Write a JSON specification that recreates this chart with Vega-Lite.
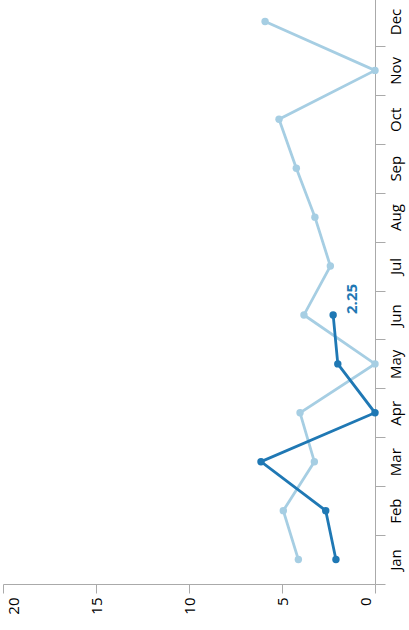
{
  "$schema": "https://vega.github.io/schema/vega-lite/v6.json",
  "autosize": {"type": "none"},
  "width": 372,
  "height": 587,
  "padding": {"left": 3, "top": -3, "right": 34, "bottom": 46},
  "config": {
    "view": {"stroke": null},
    "font": "Open Sans",
    "axis": {"domainColor": "#aaa", "tickColor": "#aaa", "labelColor": "#000", "labelFontSize": 15, "grid": false, "title": null}
  },
  "data": {"values": [
    {"month": "Jan", "series": "B", "value": 4.12},
    {"month": "Feb", "series": "B", "value": 4.93},
    {"month": "Mar", "series": "B", "value": 3.26},
    {"month": "Apr", "series": "B", "value": 4.03},
    {"month": "May", "series": "B", "value": 0},
    {"month": "Jun", "series": "B", "value": 3.82},
    {"month": "Jul", "series": "B", "value": 2.4},
    {"month": "Aug", "series": "B", "value": 3.23},
    {"month": "Sep", "series": "B", "value": 4.23},
    {"month": "Oct", "series": "B", "value": 5.16},
    {"month": "Nov", "series": "B", "value": 0},
    {"month": "Dec", "series": "B", "value": 5.91},
    {"month": "Jan", "series": "A", "value": 2.1},
    {"month": "Feb", "series": "A", "value": 2.65},
    {"month": "Mar", "series": "A", "value": 6.13},
    {"month": "Apr", "series": "A", "value": 0},
    {"month": "May", "series": "A", "value": 2.0},
    {"month": "Jun", "series": "A", "value": 2.25}
  ]},
  "encoding": {
    "y": {"field": "month", "type": "ordinal",
      "sort": ["Dec","Nov","Oct","Sep","Aug","Jul","Jun","May","Apr","Mar","Feb","Jan"],
      "scale": {"type": "band", "paddingInner": 0, "paddingOuter": 0},
      "axis": {"orient": "right", "labelAngle": -90, "tickBand": "extent", "tickSize": 10, "labelPadding": 3}},
    "x": {"field": "value", "type": "quantitative",
      "scale": {"domain": [0, 20], "reverse": true, "nice": false},
      "axis": {"orient": "bottom", "labelAngle": -90, "values": [0, 5, 10, 15, 20], "tickSize": 9, "labelPadding": 4, "labelFlush": false,
        "labelOffset": {"condition": [{"test": "datum.value === 20", "value": 10}, {"test": "datum.value === 0", "value": -10}], "value": 0}}},
    "color": {"field": "series", "type": "nominal", "legend": null,
      "scale": {"domain": ["A", "B"], "range": ["#1f78b4", "#a6cee3"]}}
  },
  "layer": [
    {"mark": {"type": "line", "strokeWidth": 2.8, "point": {"size": 55, "filled": true}}},
    {"transform": [{"filter": "datum.series === 'A' && datum.month === 'Jun'"}],
      "mark": {"type": "text", "angle": -90, "align": "left", "baseline": "middle", "dx": 1, "dy": 19, "fontWeight": "bold", "fontSize": 15},
      "encoding": {"text": {"field": "value", "type": "quantitative"}}}
  ]
}
